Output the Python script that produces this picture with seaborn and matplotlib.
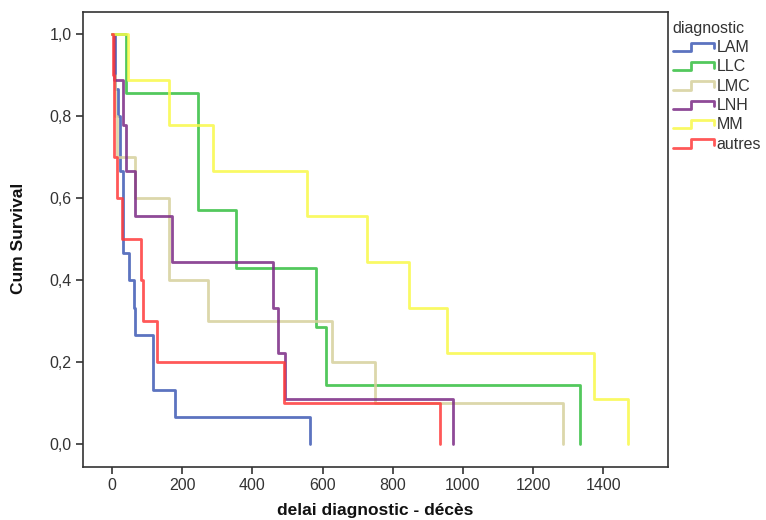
import matplotlib
matplotlib.use("Agg")
import matplotlib.pyplot as plt
import pandas as pd
import seaborn as sns
from matplotlib.legend_handler import HandlerBase
from matplotlib.lines import Line2D

# Kaplan-Meier step values (time of event, survival after it)
groups = ["LAM", "LLC", "LMC", "LNH", "MM", "autres"]

lam_t = [0, 10, 18, 22, 31, 33, 50, 64, 67, 117, 181, 563]
lam_s = [1.0, 0.867, 0.8, 0.667, 0.533, 0.467, 0.4, 0.333, 0.267, 0.133, 0.067, 0.0]

llc_t = [0, 41, 244, 354, 582, 610, 1334]
llc_s = [1.0, 0.857, 0.571, 0.429, 0.286, 0.143, 0.0]

lmc_t = [0, 5, 10, 14, 66, 163, 273, 626, 750, 1286]
lmc_s = [1.0, 0.9, 0.8, 0.7, 0.6, 0.4, 0.3, 0.2, 0.1, 0.0]

lnh_t = [0, 7, 33, 41, 66, 171, 460, 474, 494, 971]
lnh_s = [1.0, 0.889, 0.778, 0.667, 0.556, 0.444, 0.333, 0.222, 0.111, 0.0]

mm_t = [0, 47, 164, 288, 555, 726, 845, 954, 1374, 1470]
mm_s = [1.0, 0.889, 0.778, 0.667, 0.556, 0.444, 0.333, 0.222, 0.111, 0.0]

autres_t = [0, 2, 5, 15, 28, 83, 90, 130, 491, 935]
autres_s = [1.0, 0.9, 0.7, 0.6, 0.5, 0.4, 0.3, 0.2, 0.1, 0.0]

x_ticks = [0, 200, 400, 600, 800, 1000, 1200, 1400]
y_ticks = [0.0, 0.2, 0.4, 0.6, 0.8, 1.0]
y_tick_labels = ["0,0", "0,2", "0,4", "0,6", "0,8", "1,0"]

colors = ["#3f5bb5", "#35bf40", "#d6d09c", "#7b2a85", "#f9f94a", "#ff3b3b"]

series = [(lam_t, lam_s), (llc_t, llc_s), (lmc_t, lmc_s),
          (lnh_t, lnh_s), (mm_t, mm_s), (autres_t, autres_s)]
frames = []
for name, (t, s) in zip(groups, series):
    frames.append(pd.DataFrame({"t": t, "S": s, "diagnostic": name}))
df = pd.concat(frames, ignore_index=True)

sns.set_style("white")
plt.rcParams["font.family"] = ["Liberation Sans", "DejaVu Sans"]

fig = plt.figure(figsize=(7.66, 5.2), dpi=100)
ax = fig.add_axes([82.7 / 766, 1 - 467 / 520, 585 / 766, 455 / 520])

sns.lineplot(
    data=df, x="t", y="S", hue="diagnostic", hue_order=groups,
    palette=colors, estimator=None, sort=False, drawstyle="steps-post",
    linewidth=2, alpha=0.85, legend=False, ax=ax,
)

ax.set_xlim(-83, 1583)
ax.set_ylim(-0.056, 1.054)
ax.set_xticks(x_ticks)
ax.set_xticklabels([str(v) for v in x_ticks], fontsize=11.5, color="#333333")
ax.set_yticks(y_ticks)
ax.set_yticklabels(y_tick_labels, fontsize=11.5, color="#333333")
ax.tick_params(axis="both", direction="out", length=5, width=1.2,
               color="#333333", left=True, bottom=True, pad=3)
for sp in ax.spines.values():
    sp.set_visible(True)
    sp.set_color("#333333")
    sp.set_linewidth(1.2)
ax.set_xlabel("")
ax.set_ylabel("")

fig.text(375 / 766, 1 - 511 / 520, "delai diagnostic - décès", ha="center",
         va="center", fontsize=12.5, fontweight="bold", color="#111111")
fig.text(19 / 766, 1 - 238 / 520, "Cum Survival", ha="center", va="center",
         rotation=90, fontsize=12.5, fontweight="bold", color="#111111")


class StepHandler(HandlerBase):
    def create_artists(self, legend, orig_handle, xdescent, ydescent,
                       width, height, fontsize, trans):
        w, h = width, height
        xs = [-xdescent, -xdescent + 0.45 * w, -xdescent + 0.45 * w,
              -xdescent + w, -xdescent + w]
        ys = [0.1 * h, 0.1 * h, 0.85 * h, 0.85 * h, 0.35 * h]
        line = Line2D(xs, ys, color=orig_handle.get_color(), linewidth=2,
                      alpha=0.85, transform=trans)
        return [line]


handles = [Line2D([], [], color=c) for c in colors]
leg = fig.legend(
    handles, groups, title="diagnostic", loc="upper left",
    bbox_to_anchor=(668 / 766, 1 - 16 / 520), frameon=False,
    handler_map={Line2D: StepHandler()}, handlelength=2.6,
    handletextpad=0.15, labelspacing=0.27, fontsize=11.5,
    title_fontsize=11.5, borderaxespad=0, borderpad=0.3,
)
leg._legend_box.align = "left"
leg.get_title().set_color("#333333")
for txt in leg.get_texts():
    txt.set_color("#333333")

fig.savefig("out.png", dpi=100)
